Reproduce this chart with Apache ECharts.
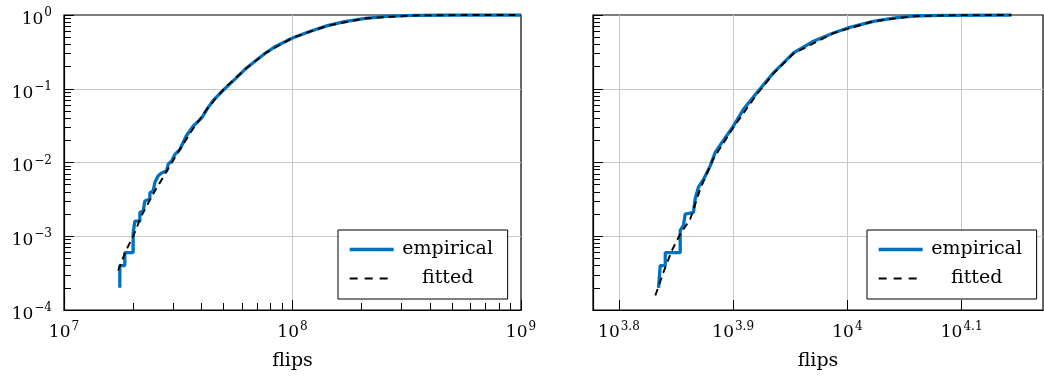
<!DOCTYPE html>
<html>
<head>
<meta charset="utf-8">
<style>
  * { margin: 0; padding: 0; }
  body { background-color: #ffffff; }
  #chart { width: 1044px; height: 376px; }
</style>
</head>
<body>
<div id="chart"></div>
<script src="https://cdn.jsdelivr.net/npm/echarts@6/dist/echarts.min.js"></script>
<script>
// left panel, empirical cdf (corner points of the steps)
var leftEmpFlips = [1.755e7, 1.755e7, 1.846e7, 1.846e7, 2.007e7, 2.007e7, 2.042e7, 2.148e7, 2.148e7, 2.221e7,
  2.259e7, 2.376e7, 2.376e7, 2.457e7, 2.499e7, 2.584e7, 2.674e7, 2.812e7, 2.858e7, 2.959e7,
  3.059e7, 3.217e7, 3.428e7, 3.673e7, 4.009e7, 4.217e7, 4.529e7, 5.012e7, 5.572e7, 6.180e7,
  6.855e7, 7.621e7, 8.453e7, 1.0e8, 1.197e8, 1.422e8, 1.690e8, 2.084e8, 2.564e8, 3.388e8,
  4.786e8, 1e9];
var leftEmpProb = [2e-4, 4e-4, 4e-4, 6e-4, 6e-4, 1.1e-3, 1.6e-3, 1.6e-3, 2.1e-3, 2.2e-3,
  3.0e-3, 3.2e-3, 3.9e-3, 4.1e-3, 5.4e-3, 6.6e-3, 7.2e-3, 7.7e-3, 9.5e-3, 0.0105,
  0.0129, 0.0151, 0.0229, 0.031, 0.0403, 0.0525, 0.0713, 0.0975, 0.133, 0.182,
  0.236, 0.305, 0.377, 0.488, 0.601, 0.718, 0.812, 0.901, 0.959, 0.989,
  1.0, 1.0];

// left panel, fitted cdf
var leftFitFlips = [1.726e7, 1.862e7, 2.009e7, 2.183e7, 2.500e7, 2.908e7, 3.217e7, 3.673e7, 4.217e7, 5.012e7,
  6.180e7, 7.621e7, 1.0e8, 1.422e8, 2.084e8, 3.388e8, 6.31e8, 1e9];
var leftFitProb = [3.43e-4, 6.3e-4, 1.0e-3, 1.9e-3, 4.13e-3, 9.0e-3, 0.0151, 0.0288, 0.0525, 0.100,
  0.182, 0.305, 0.49, 0.716, 0.902, 0.986, 0.9995, 1.0];

// right panel, empirical cdf
var rightEmpFlips = [6834, 6857, 6857, 6927, 6927, 7139, 7139, 7186, 7211, 7332,
  7357, 7405, 7482, 7584, 7661, 7764, 7948, 8110, 8331, 8614,
  8970, 9340, 9721, 10007, 10538, 10970, 11420, 12054, 13916];
var rightEmpProb = [2e-4, 2e-4, 4e-4, 4e-4, 6e-4, 6e-4, 1.2e-3, 1.4e-3, 2.0e-3, 2.1e-3,
  3.2e-3, 4.6e-3, 5.9e-3, 9.0e-3, 0.0137, 0.0186, 0.0313, 0.0525, 0.0883, 0.164,
  0.306, 0.440, 0.571, 0.667, 0.820, 0.910, 0.969, 0.989, 1.0];

// right panel, fitted cdf
var rightFitFlips = [6790, 6902, 7020, 7139, 7285, 7432, 7629, 7948, 8331, 8614,
  8970, 9721, 10538, 11420, 12500, 13916];
var rightFitProb = [1.57e-4, 3.26e-4, 6.4e-4, 1.07e-3, 1.71e-3, 4.36e-3, 0.0111, 0.030, 0.0838, 0.16,
  0.30, 0.567, 0.825, 0.963, 0.995, 1.0];

// axis ranges / ticks
var leftXRange = [1e7, 1e9];
var rightXExpRange = [3.7773, 4.1712];   // exponents of 10
var yRange = [1e-4, 1];
var legendNames = ['empirical', 'fitted'];

var FONT = 'DejaVu Serif';
var BLUE = '#0072bd';

// minor ticks at 2..9 of every decade
function minorTicks(lo, hi) {
  var out = [];
  for (var d = lo; d < hi; d++) {
    for (var m = 2; m <= 9; m++) out.push(m * Math.pow(10, d));
  }
  return out;
}

function zip(xs, ys, fx) {
  return xs.map(function (x, i) { return [fx ? fx(x) : x, ys[i]]; });
}

// base "10" pushed down, exponent pushed up, both tokens same height
var richPow = {
  b: { fontFamily: FONT, fontSize: 17, lineHeight: 17, padding: [9, 0, 0, 0], color: '#000' },
  s: { fontFamily: FONT, fontSize: 12, lineHeight: 12, padding: [5, 0, 9, 1], color: '#000' }
};

function powLabel(exp) {
  var e = String(exp).replace('-', '\u2212');
  return '{b|10}{s|' + e + '}';
}

var logLabel = function (v) { return powLabel(Math.round(Math.log10(v))); };
var expLabel = function (v) { return powLabel(+v.toFixed(1)); };

var grids = [
  { left: 64, top: 15, width: 457, height: 296 },
  { left: 593, top: 15, width: 450, height: 296 }
];

function baseGrid(g) {
  return Object.assign({ show: true, borderColor: '#000', borderWidth: 1.2, backgroundColor: 'transparent' }, g);
}

var splitLine = { show: true, showMinLine: false, showMaxLine: false, lineStyle: { color: '#c8c8c8', width: 1 } };
var axisLineStyle = { show: true, lineStyle: { color: '#000', width: 1.2 } };
var nameStyle = { fontFamily: FONT, fontSize: 19, color: '#000' };

function minorAxis(extra) {
  return Object.assign({
    axisLine: { show: false },
    axisLabel: { show: false },
    splitLine: { show: false },
    axisTick: { show: true, inside: true, length: 7, lineStyle: { color: '#000', width: 1 } }
  }, extra);
}

var xAxes = [
  {
    type: 'log', gridIndex: 0, min: leftXRange[0], max: leftXRange[1],
    name: 'flips', nameLocation: 'middle', nameGap: 42, nameTextStyle: nameStyle,
    axisLine: axisLineStyle,
    axisTick: { show: true, inside: true, length: 10, lineStyle: { color: '#000', width: 1 } },
    axisLabel: { formatter: logLabel, rich: richPow, margin: 10, showMinLabel: true, showMaxLabel: true },
    splitLine: splitLine
  },
  minorAxis({ type: 'log', gridIndex: 0, position: 'bottom', min: leftXRange[0], max: leftXRange[1] }),
  {
    type: 'value', gridIndex: 1, min: rightXExpRange[0], max: rightXExpRange[1],
    name: 'flips', nameLocation: 'middle', nameGap: 42, nameTextStyle: nameStyle,
    axisLine: axisLineStyle,
    axisTick: { show: true, inside: true, length: 10, lineStyle: { color: '#000', width: 1 } },
    axisLabel: { formatter: expLabel, rich: richPow, margin: 10, showMinLabel: false, showMaxLabel: false },
    splitLine: splitLine
  }
];
xAxes[1].axisTick.customValues = minorTicks(7, 9);

var yAxes = [];
[0, 1].forEach(function (gi) {
  yAxes.push({
    type: 'log', gridIndex: gi, min: yRange[0], max: yRange[1],
    axisLine: axisLineStyle,
    axisTick: { show: true, inside: true, length: 10, lineStyle: { color: '#000', width: 1 } },
    axisLabel: { show: gi === 0, formatter: logLabel, rich: richPow, margin: 12, showMinLabel: true, showMaxLabel: true },
    splitLine: splitLine
  });
  var m = minorAxis({ type: 'log', gridIndex: gi, position: 'left', min: yRange[0], max: yRange[1] });
  m.axisTick.customValues = minorTicks(-4, 0);
  yAxes.push(m);
});

function empSeries(data, xi, yi) {
  return {
    name: 'empirical', type: 'line', xAxisIndex: xi, yAxisIndex: yi, data: data,
    symbol: 'none', showSymbol: false, z: 3,
    lineStyle: { color: BLUE, width: 3.3 }, itemStyle: { color: BLUE }
  };
}
function fitSeries(data, xi, yi) {
  return {
    name: 'fitted', type: 'line', xAxisIndex: xi, yAxisIndex: yi, data: data,
    symbol: 'none', showSymbol: false, z: 4,
    lineStyle: { color: '#000', width: 1.9, type: [7, 5] }, itemStyle: { color: '#000' }
  };
}

function legendAt(left) {
  return {
    data: [
      { name: legendNames[0], lineStyle: { width: 3.3, color: BLUE } },
      { name: legendNames[1], lineStyle: { width: 2, color: '#000', type: [8, 7] } }
    ],
    left: left, top: 230, orient: 'vertical',
    itemWidth: 44, itemHeight: 20, itemGap: 10,
    padding: [10, 11, 11, 10],
    backgroundColor: '#fff', borderColor: '#000', borderWidth: 1, borderRadius: 0,
    selectedMode: false,
    itemStyle: { opacity: 0 },
    formatter: function (n) { return '{t|' + n + '}'; },
    textStyle: {
      rich: { t: { width: 98, align: 'center', fontFamily: FONT, fontSize: 19, lineHeight: 20, color: '#000' } }
    }
  };
}

var log10 = function (v) { return Math.log10(v); };

var option = {
  backgroundColor: '#ffffff',
  animation: false,
  textStyle: { fontFamily: FONT },
  grid: grids.map(baseGrid),
  xAxis: xAxes,
  yAxis: yAxes,
  legend: [legendAt(338), legendAt(867)],
  series: [
    empSeries(zip(leftEmpFlips, leftEmpProb), 0, 0),
    fitSeries(zip(leftFitFlips, leftFitProb), 0, 0),
    empSeries(zip(rightEmpFlips, rightEmpProb, log10), 2, 2),
    fitSeries(zip(rightFitFlips, rightFitProb, log10), 2, 2)
  ]
};

var chart = echarts.init(document.getElementById('chart'), null, { renderer: 'canvas' });
chart.setOption(option);
</script>
</body>
</html>
